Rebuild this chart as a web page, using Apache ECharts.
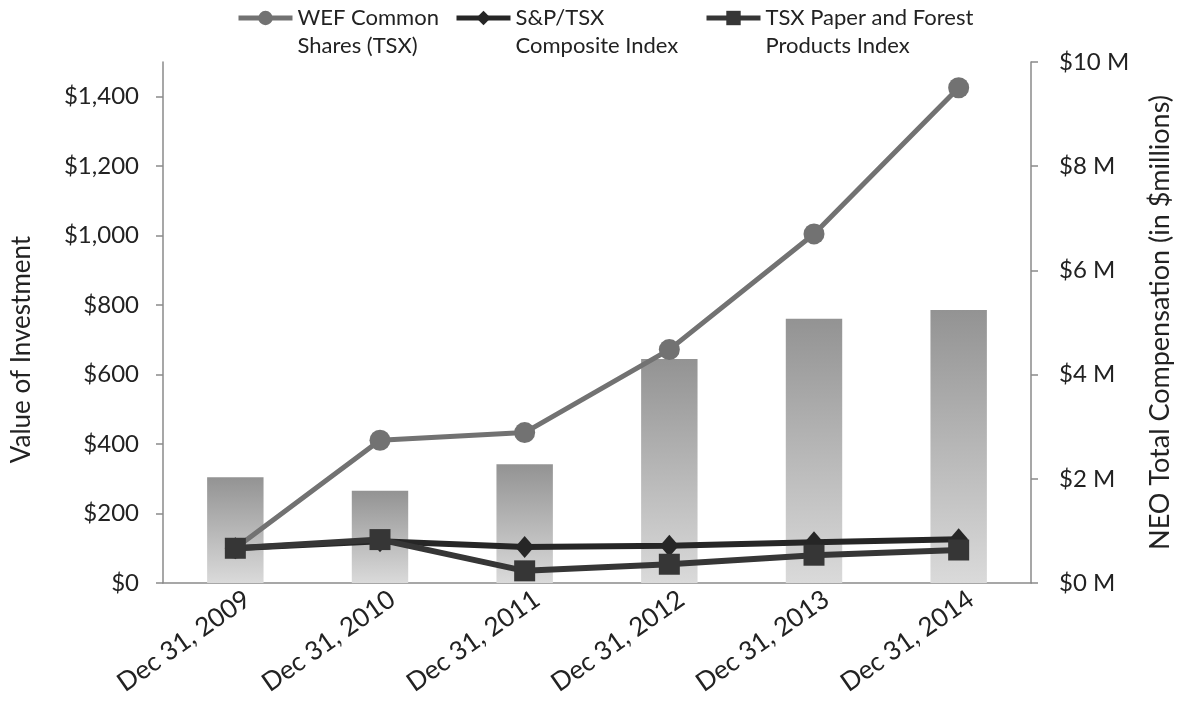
<!DOCTYPE html>
<html>
<head>
<meta charset="utf-8">
<script src="https://cdn.jsdelivr.net/npm/echarts@6/dist/echarts.min.js"></script>
<style>
    html, body { margin: 0; padding: 0; background: #fff; }
    #chart { width: 1182px; height: 702px; }
</style>
</head>
<body>
<div id="chart"></div>
<script>
// categories
var years = ['Dec 31, 2009', 'Dec 31, 2010', 'Dec 31, 2011', 'Dec 31, 2012', 'Dec 31, 2013', 'Dec 31, 2014'];
// value of $100 invested
var wefShares = [100, 411, 433, 672, 1005, 1426];
var spTsx = [100, 120, 104, 107, 117, 126];
var paperForest = [100, 125, 35, 54, 80, 95];
// NEO total compensation, $ millions
var neoComp = [2.03, 1.77, 2.28, 4.30, 5.07, 5.24];
// tick labels
var leftTicks = [0, 200, 400, 600, 800, 1000, 1200, 1400];
var rightTicks = [0, 2, 4, 6, 8, 10];
var seriesNames = ['WEF Common\nShares (TSX)', 'S&P/TSX\nComposite Index', 'TSX Paper and Forest\nProducts Index'];

var font = 'Lato, "Open Sans", sans-serif';
var axisColor = '#8a8a8a';

function money(v) {
    return '$' + String(v).replace(/\B(?=(\d{3})+(?!\d))/g, ',');
}

// one legend per series so each can sit where it is in the picture
var legendLeft = [231, 449, 699];
var legends = [];
for (var i = 0; i < seriesNames.length; i++) {
    legends.push({
        data: [seriesNames[i]],
        left: legendLeft[i],
        top: -29,
        itemWidth: 54,
        itemHeight: 18,
        lineStyle: { width: 5 },
        // blank first line keeps the icon level with the first text line
        formatter: function (name) { return ' \n' + name; },
        textStyle: {
            fontFamily: font,
            fontSize: 22,
            color: '#222',
            lineHeight: 28
        }
    });
}

var myChart = echarts.init(document.getElementById('chart'));
var option = {
    animation: false,
    backgroundColor: '#fff',
    legend: legends,
    grid: {
        left: 163,
        right: 149,
        top: 62,
        bottom: 119
    },
    xAxis: {
        type: 'category',
        data: years,
        axisLine: { lineStyle: { color: axisColor, width: 1.5 } },
        axisTick: { length: 10, lineStyle: { color: axisColor, width: 1.5 } },
        axisLabel: {
            interval: 0,
            rotate: 35,
            margin: 22,
            padding: [0, -15, 0, 0],
            fontFamily: font,
            fontSize: 26,
            color: '#222'
        }
    },
    yAxis: [
        {
            type: 'value',
            min: 0,
            max: 1500,
            interval: 200,
            name: 'Value of Investment',
            nameLocation: 'middle',
            nameGap: 128,
            nameTextStyle: { fontFamily: font, fontSize: 26, color: '#222', padding: [0, 54, 0, 0] },
            splitLine: { show: false },
            axisLine: { show: true, lineStyle: { color: axisColor, width: 1.5 } },
            axisTick: { show: true, length: 7, customValues: leftTicks, lineStyle: { color: axisColor, width: 1.5 } },
            axisLabel: {
                customValues: leftTicks,
                margin: 24,
                fontFamily: font,
                fontSize: 24,
                color: '#222',
                formatter: money
            }
        },
        {
            type: 'value',
            min: 0,
            max: 10,
            interval: 2,
            name: 'NEO Total Compensation (in $millions)',
            nameLocation: 'middle',
            nameGap: 116,
            nameRotate: 90,
            nameTextStyle: { fontFamily: font, fontSize: 27, color: '#222' },
            splitLine: { show: false },
            axisLine: { show: true, lineStyle: { color: axisColor, width: 1.5 } },
            axisTick: { show: true, length: 7, lineStyle: { color: axisColor, width: 1.5 } },
            axisLabel: {
                customValues: rightTicks,
                margin: 28,
                fontFamily: font,
                fontSize: 24,
                color: '#222',
                formatter: function (v) { return '$' + v + ' M'; }
            }
        }
    ],
    series: [
        {
            name: 'NEO Compensation',
            type: 'bar',
            yAxisIndex: 1,
            barWidth: '39%',
            data: neoComp,
            z: 1,
            itemStyle: {
                color: new echarts.graphic.LinearGradient(0, 0, 0, 1, [
                    { offset: 0, color: '#939393' },
                    { offset: 1, color: '#dadada' }
                ])
            }
        },
        {
            name: seriesNames[0],
            type: 'line',
            data: wefShares,
            symbol: 'circle',
            symbolSize: 21,
            z: 3,
            lineStyle: { color: '#727272', width: 5 },
            itemStyle: { color: '#727272' }
        },
        {
            name: seriesNames[1],
            type: 'line',
            data: spTsx,
            symbol: 'diamond',
            symbolSize: [19, 22],
            z: 4,
            lineStyle: { color: '#262626', width: 6 },
            itemStyle: { color: '#262626' }
        },
        {
            name: seriesNames[2],
            type: 'line',
            data: paperForest,
            symbol: 'rect',
            symbolSize: 21,
            z: 5,
            lineStyle: { color: '#363636', width: 6 },
            itemStyle: { color: '#363636' }
        }
    ]
};
myChart.setOption(option);
</script>
</body>
</html>
